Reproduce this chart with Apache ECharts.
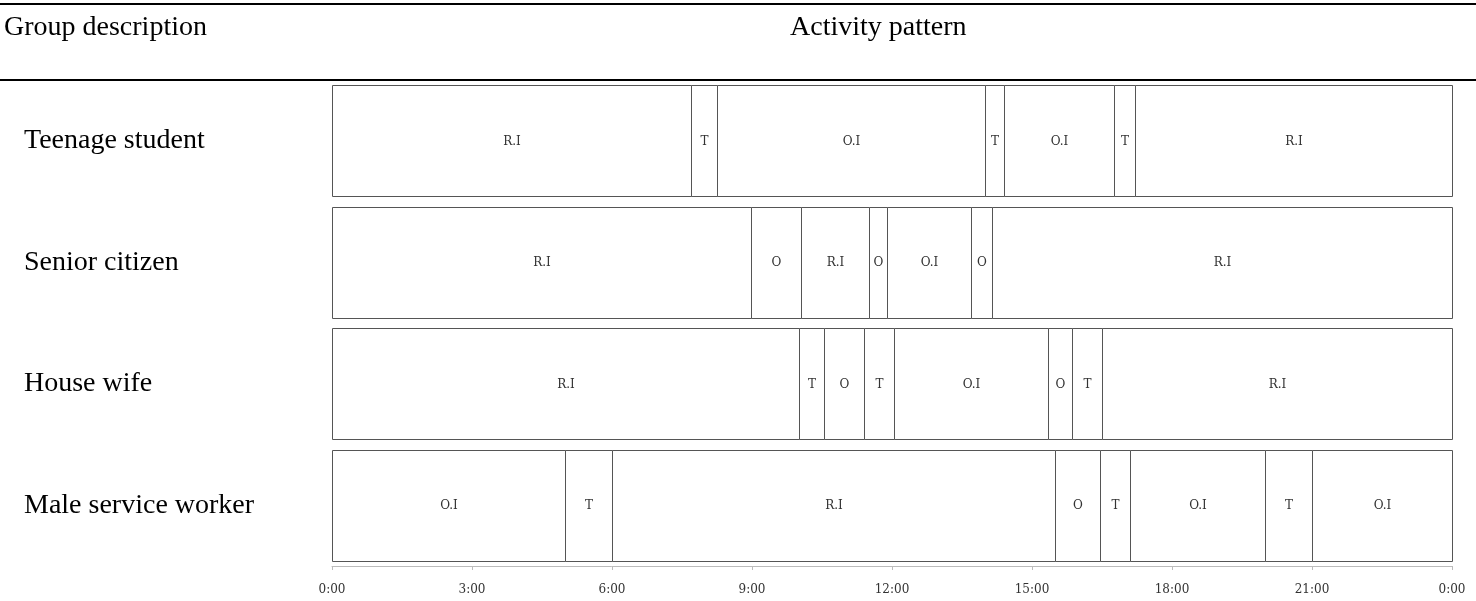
<!DOCTYPE html>
<html>
<head>
<meta charset="utf-8">
<script src="https://cdn.jsdelivr.net/npm/echarts@6/dist/echarts.min.js"></script>
<style>
html,body{margin:0;padding:0;background:#fff;}
#chart{width:1476px;height:601px;}
</style>
</head>
<body>
<div id="chart"></div>
<script>
const groups = ['Teenage student', 'Senior citizen', 'House wife', 'Male service worker'];

const teenBreaks = [0, 7.7, 8.25, 14.0, 14.4, 16.75, 17.2, 24];
const teenActs = ['R.I', 'T', 'O.I', 'T', 'O.I', 'T', 'R.I'];

const seniorBreaks = [0, 8.97, 10.05, 11.5, 11.9, 13.7, 14.15, 24];
const seniorActs = ['R.I', 'O', 'R.I', 'O', 'O.I', 'O', 'R.I'];

const houseBreaks = [0, 10.0, 10.55, 11.4, 12.05, 15.35, 15.85, 16.5, 24];
const houseActs = ['R.I', 'T', 'O', 'T', 'O.I', 'O', 'T', 'R.I'];

const maleBreaks = [0, 5.0, 6.0, 15.5, 16.45, 17.1, 20.0, 21.0, 24];
const maleActs = ['O.I', 'T', 'R.I', 'O', 'T', 'O.I', 'T', 'O.I'];

const tickLabels = ['0:00', '3:00', '6:00', '9:00', '12:00', '15:00', '18:00', '21:00', '0:00'];

const rows = [
  [teenBreaks, teenActs],
  [seniorBreaks, seniorActs],
  [houseBreaks, houseActs],
  [maleBreaks, maleActs]
];
const data = [];
rows.forEach(function (r, i) {
  const b = r[0], a = r[1];
  for (let k = 0; k < a.length; k++) {
    data.push([i, b[k], b[k + 1], a[k]]);
  }
});

const SERIF = '"Liberation Serif", "Times New Roman", serif';
const chart = echarts.init(document.getElementById('chart'), null, {renderer: 'canvas'});
chart.setOption({
  animation: false,
  backgroundColor: '#fff',
  grid: {left: 332, right: 24, top: 80, bottom: 35},
  xAxis: {
    type: 'value', min: 0, max: 24, interval: 3,
    axisLine: {show: true, lineStyle: {color: '#bbb', width: 1}},
    axisTick: {show: true, length: 4, lineStyle: {color: '#bbb'}},
    splitLine: {show: false},
    axisLabel: {
      margin: 18,
      color: '#333',
      fontFamily: '"DejaVu Serif", serif',
      fontSize: 12,
      formatter: function (v) { return tickLabels[Math.round(v / 3)]; }
    }
  },
  yAxis: {
    type: 'category', data: groups, inverse: true,
    axisLine: {show: false}, axisTick: {show: false}, splitLine: {show: false},
    axisLabel: {
      align: 'left', margin: 308, color: '#000',
      fontFamily: SERIF, fontSize: 28
    }
  },
  series: [{
    type: 'custom',
    data: data,
    encode: {x: [1, 2], y: 0},
    renderItem: function (params, api) {
      const s = api.coord([api.value(1), api.value(0)]);
      const e = api.coord([api.value(2), api.value(0)]);
      const h = api.size([0, 1])[1] * 0.913;
      const x0 = Math.round(s[0]) + 0.5, x1 = Math.round(e[0]) + 0.5;
      const y0 = Math.round(s[1] - h / 2) + 0.5;
      const hh = Math.round(h);
      return {
        type: 'group',
        children: [
          {type: 'rect', shape: {x: x0, y: y0, width: x1 - x0, height: hh},
           style: {fill: '#fff', stroke: '#555', lineWidth: 1}},
          {type: 'text', style: {text: data[params.dataIndex][3], x: (x0 + x1) / 2, y: s[1] + 1,
            align: 'center', verticalAlign: 'middle',
            font: '12px "DejaVu Serif", serif', fill: '#333'}}
        ]
      };
    }
  }],
  graphic: [
    {type: 'rect', shape: {x: 0, y: 3, width: 1476, height: 2}, style: {fill: '#000'}},
    {type: 'rect', shape: {x: 0, y: 79, width: 1476, height: 2}, style: {fill: '#000'}},
    {type: 'text', left: 4, top: 14, style: {text: 'Group description', font: '28px ' + SERIF, fill: '#000'}},
    {type: 'text', left: 790, top: 14, style: {text: 'Activity pattern', font: '28px ' + SERIF, fill: '#000'}}
  ]
});
</script>
</body>
</html>
